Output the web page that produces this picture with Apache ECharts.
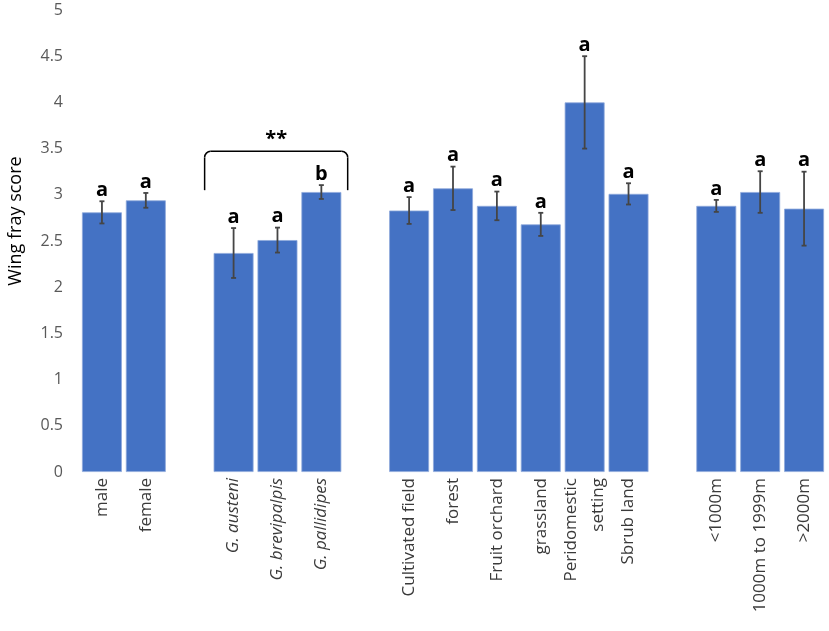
<!DOCTYPE html>
<html>
<head>
<meta charset="utf-8">
<script src="https://cdn.jsdelivr.net/npm/echarts@6/dist/echarts.min.js"></script>
<style>
  html, body { margin: 0; padding: 0; background: #fff; }
  #main { width: 829px; height: 631px; }
</style>
</head>
<body>
<div id="main"></div>
<script>
// categories (blank entries are the gaps between groups)
var categories = ['male', 'female', ' ',
	'G. austeni', 'G. brevipalpis', 'G. pallidipes', '  ',
	'Cultivated field', 'forest', 'Fruit orchard', 'grassland', 'Peridomestic\nsetting', 'Sbrub land', '   ',
	'<1000m', '1000m to 1999m', '>2000m'];
var italicNames = ['G. austeni', 'G. brevipalpis', 'G. pallidipes'];

// mean wing fray score
var means = [2.81, 2.94, null, 2.37, 2.51, 3.03, null, 2.83, 3.07, 2.88, 2.68, 4.0, 3.01, null, 2.88, 3.03, 2.85];
// standard error
var errs = [0.12, 0.08, null, 0.27, 0.135, 0.075, null, 0.145, 0.235, 0.155, 0.125, 0.5, 0.115, null, 0.065, 0.225, 0.4];
// significance letters
var letters = ['a', 'a', '', 'a', 'a', 'b', '', 'a', 'a', 'a', 'a', 'a', 'a', '', 'a', 'a', 'a'];

// bracket over species group: [first index, last index, top value, bottom value]
var bracket = [[3, 5, 3.47, 3.05]];
var bracketText = '**';

var yTicks = { min: 0, max: 5, interval: 0.5 };

var errData = [];
for (var i = 0; i < means.length; i++) {
	if (means[i] == null) continue;
	errData.push([i, means[i] - errs[i], means[i] + errs[i]]);
}

function renderErr(params, api) {
	var x = api.value(0);
	var top = api.coord([x, api.value(2)]);
	var bot = api.coord([x, api.value(1)]);
	var cap = 2.5;
	var st = { stroke: '#454545', lineWidth: 1.8 };
	return {
		type: 'group',
		children: [
			{ type: 'line', shape: { x1: top[0], y1: top[1], x2: bot[0], y2: bot[1] }, style: st },
			{ type: 'line', shape: { x1: top[0] - cap, y1: top[1], x2: top[0] + cap, y2: top[1] }, style: st },
			{ type: 'line', shape: { x1: bot[0] - cap, y1: bot[1], x2: bot[0] + cap, y2: bot[1] }, style: st },
			{ type: 'text', x: top[0], y: top[1] - 1, style: {
				text: letters[x], fill: '#000', align: 'center', verticalAlign: 'bottom',
				font: 'bold 20px "Open Sans"'
			} }
		]
	};
}

function renderBracket(params, api) {
	var band = api.size([1, 0])[0];
	var p1 = api.coord([api.value(0), api.value(2)]);
	var p2 = api.coord([api.value(1), api.value(2)]);
	var yb = api.coord([api.value(0), api.value(3)])[1];
	var xl = p1[0] - band * 0.66;
	var xr = p2[0] + band * 0.6;
	var yt = p1[1];
	var r = 6;
	var st = { stroke: '#000', lineWidth: 1.5, fill: null };
	return {
		type: 'group',
		children: [
			{ type: 'line', shape: { x1: xl, y1: yb, x2: xl, y2: yt + r }, style: st },
			{ type: 'arc', shape: { cx: xl + r, cy: yt + r, r: r, startAngle: Math.PI, endAngle: Math.PI * 1.5 }, style: st },
			{ type: 'line', shape: { x1: xl + r, y1: yt, x2: xr - r, y2: yt }, style: st },
			{ type: 'arc', shape: { cx: xr - r, cy: yt + r, r: r, startAngle: Math.PI * 1.5, endAngle: Math.PI * 2 }, style: st },
			{ type: 'line', shape: { x1: xr, y1: yt + r, x2: xr, y2: yb }, style: st },
			{ type: 'text', x: (xl + xr) / 2, y: yt - 2, style: {
				text: bracketText, fill: '#000', align: 'center', verticalAlign: 'bottom',
				font: 'bold 20px "Open Sans"'
			} }
		]
	};
}

var myChart = echarts.init(document.getElementById('main'));
var option = {
	animation: false,
	grid: { left: 80, right: 3, top: 10, bottom: 159, containLabel: false, outerBoundsMode: 'none' },
	xAxis: {
		type: 'category',
		data: categories,
		axisLine: { show: false },
		axisTick: { show: false },
		axisLabel: {
			interval: 0,
			rotate: 90,
			margin: 6,
			color: '#3a3a3a',
			fontSize: 17,
			fontFamily: 'Open Sans',
			lineHeight: 27,
			formatter: function (v) {
				return italicNames.indexOf(v) >= 0 ? '{i|' + v + '}' : v;
			},
			rich: {
				i: { fontStyle: 'italic', fontSize: 17, fontFamily: 'Open Sans', color: '#3a3a3a' }
			}
		}
	},
	yAxis: {
		type: 'value',
		min: yTicks.min,
		max: yTicks.max,
		interval: yTicks.interval,
		name: 'Wing fray score',
		nameLocation: 'middle',
		nameGap: 55,
		nameTextStyle: { color: '#000', fontSize: 18, fontFamily: 'Open Sans', padding: [0, 0, 0, 40] },
		axisLine: { show: false },
		axisTick: { show: false },
		splitLine: { show: false },
		axisLabel: { color: '#595959', fontSize: 16, fontFamily: 'Open Sans', margin: 17 }
	},
	series: [
		{
			type: 'bar',
			data: means,
			barCategoryGap: '9%',
			itemStyle: { color: '#4472C4', borderColor: '#8faadc', borderWidth: 0.8 }
		},
		{
			type: 'custom',
			data: errData,
			renderItem: renderErr,
			encode: { x: 0, y: [1, 2] },
			z: 5
		},
		{
			type: 'custom',
			data: bracket,
			renderItem: renderBracket,
			encode: { x: [0, 1], y: [2, 3] },
			z: 5
		}
	]
};
myChart.setOption(option);
</script>
</body>
</html>
